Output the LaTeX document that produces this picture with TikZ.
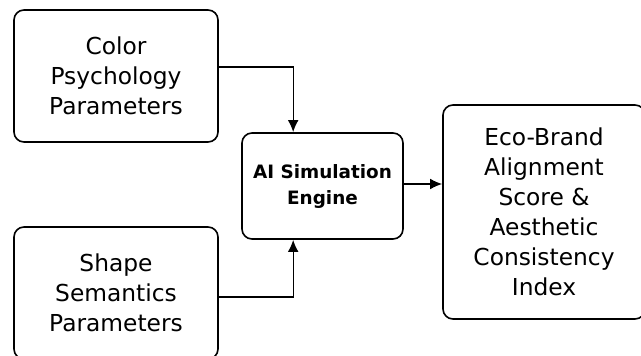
\documentclass[tikz,border=0pt]{standalone}
\usepackage{fontspec}
\setmainfont{DejaVu Sans}
\usetikzlibrary{arrows.meta}

\tikzset{every picture/.style={line width=1.2pt}}

\begin{document}
\begin{tikzpicture}[x=0.75pt,y=0.75pt,yscale=-1,xscale=1,
	box/.style={draw,rounded corners=7.5pt,align=center,inner sep=0pt,font=\fontsize{17.5}{22.5}\selectfont},
	enginebox/.style={box,font=\bfseries\fontsize{13.8}{19.5}\selectfont},
	conn/.style={line width=1pt,-{Latex[length=9pt,width=8pt]}}]
	%set diagram left start at 0, and has height of 356
	\useasboundingbox (0,0) rectangle (641,356);
	
	%Rounded Rect: input parameters
	\node [box,minimum width=153pt,minimum height=99pt] (color) at (116,76) {Color\\Psychology\\Parameters};
	\node [box,minimum width=153pt,minimum height=99pt] (shape) at (116,293) {Shape\\Semantics\\Parameters};
	%Rounded Rect: engine
	\node [enginebox,minimum width=120.75pt,minimum height=79.5pt] (engine) at (322.5,186) {AI Simulation\\Engine};
	%Rounded Rect: result
	\node [box,minimum width=151.5pt,minimum height=160.5pt] (result) at (544,212) {Eco-Brand\\Alignment\\Score \&\\Aesthetic\\Consistency\\Index};
	
	%Connectors
	\draw [conn] ([yshift=-6.75pt]color.east) -| ([xshift=-22pt]engine.north) ;
	\draw [conn] ([yshift=3pt]shape.east) -| ([xshift=-22pt]engine.south) ;
	\draw [conn] ([yshift=-1.5pt]engine.east) -- ([yshift=-1.5pt]engine.east -| result.west) ;
	
\end{tikzpicture}
\end{document}
